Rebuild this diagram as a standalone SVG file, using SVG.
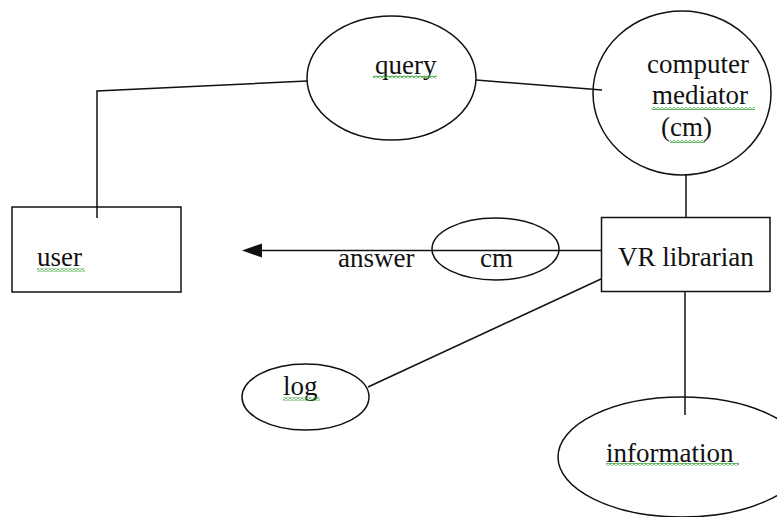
<svg xmlns="http://www.w3.org/2000/svg" width="777" height="517" viewBox="0 0 777 517">
  <style>
    .shape { fill: none; stroke: #111; stroke-width: 1.5; }
    .box { fill: none; stroke: #111; stroke-width: 1.5; }
    .link { fill: none; stroke: #111; stroke-width: 1.5; }
    .label { font-family: "Liberation Serif", "Times New Roman", serif; font-size: 27px; fill: #111; }
    .squiggle { fill: url(#wave); }
  </style>
  <defs>
    <!-- wavy spell-check underline -->
    <pattern id="wave" width="4" height="3" patternUnits="userSpaceOnUse">
      <path d="M0,0.6 L2,2.4 L4,0.6" fill="none" stroke="#2f9f2f" stroke-width="1.1"/>
    </pattern>
  </defs>

  <!-- connectors -->
  <g id="connectors">
    <polyline class="link" points="97,218 97,91 307,81"/>
    <line class="link" x1="476" y1="80" x2="602" y2="90"/>
    <line class="link" x1="686" y1="175" x2="686" y2="218"/>
    <line class="link" x1="602" y1="250.5" x2="262" y2="250.5"/>
    <path d="M242,250.5 L262,243.5 L262,257.5 Z" fill="#111"/>
    <line class="link" x1="601" y1="279" x2="368" y2="387"/>
    <line class="link" x1="685" y1="291" x2="685" y2="415"/>
  </g>

  <g id="user">
    <rect class="box" x="12" y="207" width="169" height="85"/>
    <text class="label" x="37" y="266">user</text>
    <rect class="squiggle" x="37" y="268.5" width="48" height="3"/>
  </g>

  <g id="query">
    <ellipse class="shape" cx="391.5" cy="78" rx="84.5" ry="62"/>
    <text class="label" x="375" y="74">query</text>
    <rect class="squiggle" x="373" y="75.5" width="64" height="3"/>
  </g>

  <g id="computer-mediator">
    <ellipse class="shape" cx="682" cy="93" rx="89" ry="82"/>
    <text class="label" x="647" y="73">computer</text>
    <text class="label" x="652" y="104">mediator</text>
    <text class="label" x="661" y="136">(cm)</text>
    <rect class="squiggle" x="652" y="107" width="103" height="3"/>
    <rect class="squiggle" x="670" y="140" width="35" height="3"/>
  </g>

  <g id="vr-librarian">
    <rect class="box" x="601.5" y="217.5" width="168.5" height="74"/>
    <text class="label" x="618" y="266">VR librarian</text>
  </g>

  <g id="cm">
    <ellipse class="shape" cx="495.5" cy="249" rx="63.5" ry="31"/>
    <text class="label" x="480" y="267">cm</text>
  </g>

  <g id="answer">
    <text class="label" x="338" y="267">answer</text>
  </g>

  <g id="log">
    <ellipse class="shape" cx="305.5" cy="397" rx="63.5" ry="33"/>
    <text class="label" x="283" y="395">log</text>
    <rect class="squiggle" x="283" y="397.5" width="37" height="3"/>
  </g>

  <g id="information">
    <ellipse class="shape" cx="682" cy="457" rx="124" ry="60"/>
    <text class="label" x="606" y="462">information</text>
    <rect class="squiggle" x="606" y="463" width="133" height="3"/>
  </g>
</svg>
